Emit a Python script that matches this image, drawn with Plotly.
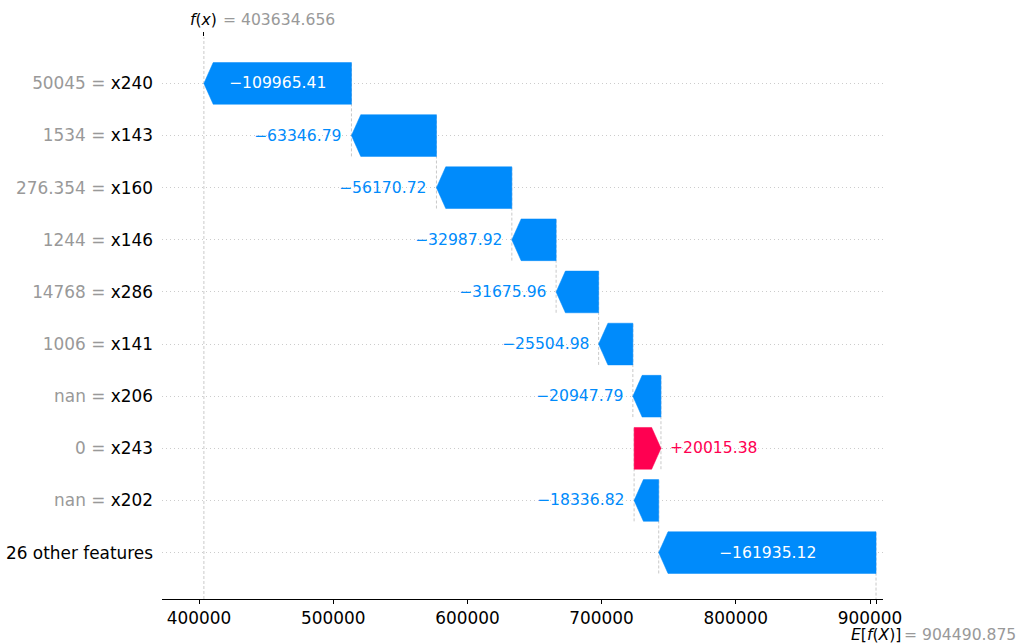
import plotly.graph_objects as go

# SHAP waterfall for one prediction
base_value = 904490.875
fx_value = 403634.656

feature_names = ["x240", "x143", "x160", "x146", "x286", "x141", "x206", "x243", "x202", "26 other features"]
feature_values = ["50045", "1534", "276.354", "1244", "14768", "1006", "nan", "0", "nan", ""]
shap_values = [-109965.41, -63346.79, -56170.72, -32987.92, -31675.96, -25504.98,
               -20947.79, 20015.38, -18336.82, -161935.12]

x_ticks = [400000, 500000, 600000, 700000, 800000, 900000]
x_range = [372430, 909690]
y_range = [-0.89, 9.89]

BLUE = "#008bfb"
RED = "#ff0051"
GRAY = "#999999"
LINE_GRAY = "#bbbbbb"
FONT = "DejaVu Sans"

# plot geometry (pixels)
W, H = 1020, 643
M_L, M_R, M_T, M_B = 162, 137, 37, 44
plot_w = W - M_L - M_R
px_per_unit = plot_w / (x_range[1] - x_range[0])
head_len = 9.3 / px_per_unit
bar_half = 0.4
label_size = 15.6

n = len(feature_names)
ypos = [n - 1 - i for i in range(n)]  # first feature on top

# starting value of each row: accumulate from the base value upward
starts = [0.0] * n
acc = base_value
for i in range(n - 1, -1, -1):
    starts[i] = acc
    acc += shap_values[i]

fig = go.Figure()

# dashed connectors between consecutive bars
for i in range(n):
    fig.add_trace(go.Scatter(
        x=[starts[i], starts[i]], y=[ypos[i] - 1 - bar_half, ypos[i] + bar_half],
        mode="lines", line=dict(color=LINE_GRAY, width=0.8, dash="3px,2px"),
        hoverinfo="skip", showlegend=False))

# full-height line at f(x)
fig.add_trace(go.Scatter(
    x=[fx_value, fx_value], y=y_range, mode="lines",
    line=dict(color=LINE_GRAY, width=0.8, dash="3px,2px"),
    hoverinfo="skip", showlegend=False))

annotations = []
for i in range(n):
    s = starts[i]
    v = shap_values[i]
    e = s + v
    y = ypos[i]
    h = min(head_len, abs(v))
    neck = e + h if v < 0 else e - h
    color = BLUE if v < 0 else RED
    fig.add_trace(go.Scatter(
        x=[s, neck, e, neck, s, s],
        y=[y - bar_half, y - bar_half, y, y + bar_half, y + bar_half, y - bar_half],
        mode="lines", fill="toself", fillcolor=color,
        line=dict(color=color, width=0.5),
        hoverinfo="skip", showlegend=False))

    txt = ("+" if v > 0 else "\u2212") + f"{abs(v):.2f}"
    text_px = (len(txt) * 0.636) * label_size
    bar_px = abs(v) * px_per_unit
    if bar_px > text_px + 10:
        annotations.append(dict(
            x=s + v / 2, y=y, xref="x", yref="y", text=txt, showarrow=False,
            xanchor="center", yanchor="middle",
            font=dict(family=FONT, size=label_size, color="white")))
    else:
        annotations.append(dict(
            x=e, y=y, xref="x", yref="y", text=txt, showarrow=False,
            xanchor="right" if v < 0 else "left", yanchor="middle",
            xshift=-8 if v < 0 else 7,
            font=dict(family=FONT, size=label_size, color=color)))

# f(x) label above the plot
annotations.append(dict(
    x=fx_value, y=1, xref="x", yref="paper", yshift=17, text="<i>f</i>(<i>x</i>)",
    showarrow=False, xanchor="center", yanchor="middle", borderpad=0,
    font=dict(family=FONT, size=label_size, color="black")))
annotations.append(dict(
    x=fx_value, y=1, xref="x", yref="paper", yshift=17, xshift=18,
    text=f"= {fx_value:.3f}", showarrow=False, xanchor="left", yanchor="middle",
    borderpad=0, font=dict(family=FONT, size=label_size, color=GRAY)))

# E[f(X)] label below the axis
annotations.append(dict(
    x=base_value, y=0, xref="x", yref="paper", yshift=-36,
    text="<i>E</i>[<i>f</i>(<i>X</i>)]", showarrow=False,
    xanchor="center", yanchor="middle", borderpad=0,
    font=dict(family=FONT, size=label_size, color="black")))
annotations.append(dict(
    x=base_value, y=0, xref="x", yref="paper", yshift=-36, xshift=27,
    text=f"= {base_value:.3f}", showarrow=False, xanchor="left", yanchor="middle",
    borderpad=0, font=dict(family=FONT, size=label_size, color=GRAY)))

tick_text = []
for name, val in zip(feature_names, feature_values):
    if val:
        tick_text.append(f'<span style="color:{GRAY}">{val} = </span>{name}')
    else:
        tick_text.append(name)

fig.update_layout(
    width=W, height=H,
    margin=dict(l=M_L, r=M_R, t=M_T, b=M_B, autoexpand=False),
    paper_bgcolor="white", plot_bgcolor="white",
    showlegend=False,
    annotations=annotations,
    xaxis=dict(
        range=x_range, tickvals=x_ticks, ticktext=[str(t) for t in x_ticks],
        showgrid=False, zeroline=False, showline=True, linecolor="black", linewidth=1.2,
        ticks="outside", ticklen=4, tickwidth=1, tickcolor="black",
        tickfont=dict(family=FONT, size=16.9, color="black")),
    xaxis2=dict(
        range=x_range, overlaying="x", side="top", anchor="y",
        tickvals=[fx_value], showticklabels=False, ticks="outside", ticklen=4,
        tickwidth=1, tickcolor="black", showgrid=False, zeroline=False, showline=False),
    xaxis3=dict(
        range=x_range, overlaying="x", side="bottom", anchor="y",
        tickvals=[base_value], showticklabels=False, ticks="outside", ticklen=4,
        tickwidth=1, tickcolor="black", showgrid=False, zeroline=False, showline=False),
    yaxis=dict(
        range=y_range, tickvals=ypos, ticktext=tick_text,
        showgrid=True, gridcolor="#cccccc", gridwidth=1, griddash="1px,3px",
        zeroline=False, showline=False, ticks="", ticklabelstandoff=8,
        tickfont=dict(family=FONT, size=16.9, color="black")),
)

# invisible traces so the extra tick axes are drawn
fig.add_trace(go.Scatter(x=[fx_value], y=[0], xaxis="x2", mode="markers",
                         marker=dict(opacity=0), hoverinfo="skip", showlegend=False))
fig.add_trace(go.Scatter(x=[base_value], y=[0], xaxis="x3", mode="markers",
                         marker=dict(opacity=0), hoverinfo="skip", showlegend=False))

fig.write_html("out.html")
